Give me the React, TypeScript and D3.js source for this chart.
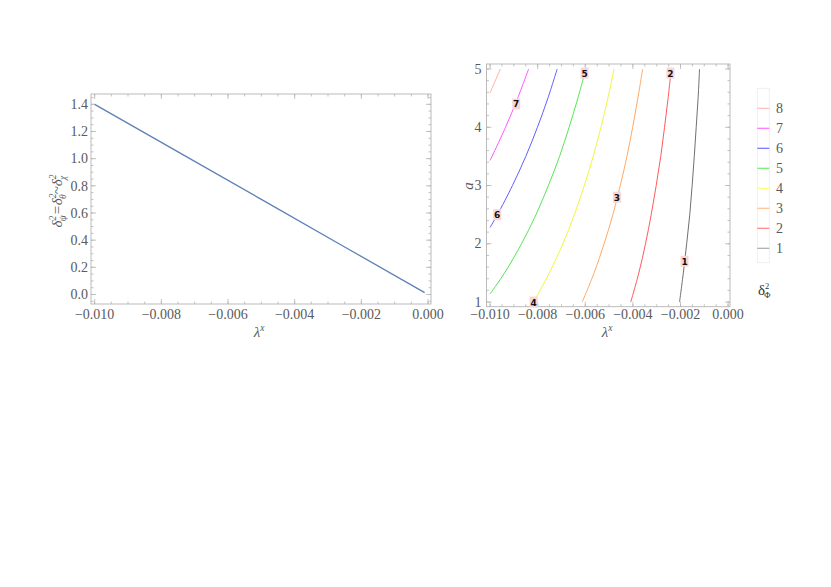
import React from "react";
import * as d3 from "d3";

// ---- Left plot data ----
const lineLambda = [-0.01, -0.0075, -0.005, -0.0025, -0.0001];
const lineDelta = [1.4, 1.05, 0.7, 0.35, 0.014];

// ---- Right plot data: contour lines as [lambda, a] points ----
const levels = [1, 2, 3, 4, 5, 6, 7, 8];
const contour1: [number, number][] = [[-0.00204, 1], [-0.00188, 1.5], [-0.00174, 2], [-0.00161, 2.5], [-0.00151, 3], [-0.00142, 3.5], [-0.00134, 4], [-0.00126, 4.5], [-0.0012, 5]];
const contour2: [number, number][] = [[-0.00409, 1], [-0.00375, 1.5], [-0.00347, 2], [-0.00323, 2.5], [-0.00302, 3], [-0.00283, 3.5], [-0.00267, 4], [-0.00252, 4.5], [-0.00239, 5]];
const contour3: [number, number][] = [[-0.00613, 1], [-0.00563, 1.5], [-0.00521, 2], [-0.00484, 2.5], [-0.00453, 3], [-0.00425, 3.5], [-0.00401, 4], [-0.00379, 4.5], [-0.00359, 5]];
const contour4: [number, number][] = [[-0.00817, 1], [-0.00751, 1.5], [-0.00694, 2], [-0.00646, 2.5], [-0.00604, 3], [-0.00567, 3.5], [-0.00534, 4], [-0.00505, 4.5], [-0.00479, 5]];
const contour5: [number, number][] = [[-0.01, 1.14], [-0.00939, 1.5], [-0.00868, 2], [-0.00807, 2.5], [-0.00755, 3], [-0.00708, 3.5], [-0.00668, 4], [-0.00631, 4.5], [-0.00598, 5]];
const contour6: [number, number][] = [[-0.01, 2.28], [-0.00969, 2.5], [-0.00906, 3], [-0.0085, 3.5], [-0.00801, 4], [-0.00757, 4.5], [-0.00718, 5]];
const contour7: [number, number][] = [[-0.01, 3.43], [-0.00935, 4], [-0.00884, 4.5], [-0.00838, 5]];
const contour8: [number, number][] = [[-0.01, 4.59], [-0.00957, 5]];
const contours = [contour1, contour2, contour3, contour4, contour5, contour6, contour7, contour8];

const labelLevels = ["1", "2", "3", "4", "5", "6", "7"];
const labelLambda = [-0.00183, -0.00242, -0.00467, -0.00817, -0.00603, -0.0097, -0.0089];
const labelA = [1.7, 4.93, 2.8, 1.0, 4.93, 2.5, 4.4];

const lineColors = ["#707070", "#ff5a5a", "#ffaa66", "#f4f442", "#55e655", "#6060ff", "#ff55ff", "#ffb4a8"];
const legendColors = ["#aaaaaa", "#ff8080", "#ffc090", "#ffff70", "#70ee70", "#6f6fff", "#ff70ff", "#ffbcbc"];

const xTicks = [-0.01, -0.008, -0.006, -0.004, -0.002, 0];
const leftYTicks = [0, 0.2, 0.4, 0.6, 0.8, 1.0, 1.2, 1.4];
const rightYTicks = [1, 2, 3, 4, 5];

const FRAME = "#b4b4b4";
const TXT = "#5a5a5a";
const FONT = "'Liberation Serif', 'DejaVu Serif', serif";

function Frame({ x, y, xMinor, yMinor, xMajor, yMajor }: any) {
  const els: any[] = [];
  const x0 = x.range()[0], x1 = x.range()[1];
  const y0 = y.range()[0], y1 = y.range()[1];
  xMinor.forEach((t: number, i: number) => {
    const px = x(t);
    els.push(<line key={"xm" + i} x1={px} x2={px} y1={y0} y2={y0 - 2.5} stroke={FRAME} strokeWidth={0.8} />);
    els.push(<line key={"xmt" + i} x1={px} x2={px} y1={y1} y2={y1 + 2.5} stroke={FRAME} strokeWidth={0.8} />);
  });
  xMajor.forEach((t: number, i: number) => {
    const px = x(t);
    els.push(<line key={"xM" + i} x1={px} x2={px} y1={y0} y2={y0 - 5} stroke={FRAME} strokeWidth={0.8} />);
    els.push(<line key={"xMt" + i} x1={px} x2={px} y1={y1} y2={y1 + 5} stroke={FRAME} strokeWidth={0.8} />);
  });
  yMinor.forEach((t: number, i: number) => {
    const py = y(t);
    els.push(<line key={"ym" + i} x1={x0} x2={x0 + 2.5} y1={py} y2={py} stroke={FRAME} strokeWidth={0.8} />);
    els.push(<line key={"ymr" + i} x1={x1} x2={x1 - 2.5} y1={py} y2={py} stroke={FRAME} strokeWidth={0.8} />);
  });
  yMajor.forEach((t: number, i: number) => {
    const py = y(t);
    els.push(<line key={"yM" + i} x1={x0} x2={x0 + 5} y1={py} y2={py} stroke={FRAME} strokeWidth={0.8} />);
    els.push(<line key={"yMr" + i} x1={x1} x2={x1 - 5} y1={py} y2={py} stroke={FRAME} strokeWidth={0.8} />);
  });
  return (
    <g>
      <rect x={x0} y={y1} width={x1 - x0} height={y0 - y1} fill="none" stroke={FRAME} strokeWidth={0.9} />
      {els}
    </g>
  );
}

export default function App() {
  // Left plot scales
  const xL = d3.scaleLinear().domain([-0.01011, 0.00009]).range([91, 431]);
  const yL = d3.scaleLinear().domain([-0.07, 1.476]).range([304, 94]);
  // Right plot scales
  const xR = d3.scaleLinear().domain([-0.01015, 0.00008]).range([486.5, 730]);
  const yR = d3.scaleLinear().domain([0.92, 5.086]).range([306.7, 64]);

  const fx = d3.format(".3f");
  const fy = d3.format(".1f");

  const xMinor = d3.range(-0.0105, 0.00051, 0.0005).filter((v) => v >= -0.0101 && v <= 0.00009);
  const xMinorR = d3.range(-0.0105, 0.00051, 0.0005).filter((v) => v >= -0.01015 && v <= 0.00008);
  const yMinorL = d3.range(-0.05, 1.4751, 0.05);
  const yMinorR = d3.range(1, 5.01, 0.2);

  const leftLine = d3
    .line<number>()
    .x((_, i) => xL(lineLambda[i]))
    .y((d) => yL(d));

  const cLine = d3
    .line<[number, number]>()
    .x((d) => xR(d[0]))
    .y((d) => yR(d[1]))
    .curve(d3.curveCatmullRom);

  const legendY = d3.scaleLinear().domain([8, 1]).range([108.3, 248.3]);

  return (
    <svg width={831} height={587} style={{ position: "absolute", left: 0, top: 0, background: "#fff" }} fontFamily={FONT}>
      <rect x={0} y={0} width={831} height={587} fill="#fff" />
      {/* Left plot */}
      <Frame x={xL} y={yL} xMinor={xMinor} yMinor={yMinorL} xMajor={xTicks} yMajor={leftYTicks} />
      <path d={leftLine(lineDelta) || ""} fill="none" stroke="#5e81b5" strokeWidth={1.3} />
      {xTicks.map((t, i) => (
        <text key={"lx" + i} x={xL(t)} y={318.5} textAnchor="middle" fontSize={14} fill={TXT}>
          {fx(t)}
        </text>
      ))}
      {leftYTicks.map((t, i) => (
        <text key={"ly" + i} x={88} y={yL(t) + 4.7} textAnchor="end" fontSize={14} fill={TXT}>
          {fy(t)}
        </text>
      ))}
      <text x={259} y={337} textAnchor="middle" fontSize={15} fill={TXT} fontStyle="italic">
        λ<tspan dy={-6} fontSize={9.5}>x</tspan>
      </text>
      <text transform="translate(62,201) rotate(-90)" textAnchor="middle" fontSize={15} fill={TXT} fontStyle="italic">
        δ<tspan dy={-6} fontSize={9.5}>2</tspan>
        <tspan dy={10} dx={-5.5} fontSize={9.5}>ψ</tspan>
        <tspan dy={-4}>=δ</tspan>
        <tspan dy={-6} fontSize={9.5}>2</tspan>
        <tspan dy={10} dx={-5.5} fontSize={9.5}>θ</tspan>
        <tspan dy={-4}>~δ</tspan>
        <tspan dy={-6} fontSize={9.5}>2</tspan>
        <tspan dy={10} dx={-5.5} fontSize={9.5}>χ</tspan>
      </text>

      {/* Right plot */}
      <Frame x={xR} y={yR} xMinor={xMinorR} yMinor={yMinorR} xMajor={xTicks} yMajor={rightYTicks} />
      {contours.map((c, i) => (
        <path key={"c" + i} d={cLine(c) || ""} fill="none" stroke={lineColors[i]} strokeWidth={1} />
      ))}
      {labelLevels.map((l, i) => (
        <g key={"cl" + i}>
          <rect x={xR(labelLambda[i]) - 4} y={yR(labelA[i]) - 5.5} width={8} height={11} fill="#f9d6d6" />
          <text x={xR(labelLambda[i])} y={yR(labelA[i]) + 3.5} textAnchor="middle" fontSize={9} fontWeight="bold" fill="#111" fontFamily="'DejaVu Sans', sans-serif">
            {l}
          </text>
        </g>
      ))}
      {xTicks.map((t, i) => (
        <text key={"rx" + i} x={xR(t)} y={319} textAnchor="middle" fontSize={14} fill={TXT}>
          {fx(t)}
        </text>
      ))}
      {rightYTicks.map((t, i) => (
        <text key={"ry" + i} x={481.5} y={yR(t) + 4.5} textAnchor="end" fontSize={14} fill={TXT}>
          {t}
        </text>
      ))}
      <text x={607} y={337} textAnchor="middle" fontSize={15} fill={TXT} fontStyle="italic">
        λ<tspan dy={-6} fontSize={9.5}>x</tspan>
      </text>
      <text transform="translate(473,186) rotate(-90)" textAnchor="middle" fontSize={15} fill={TXT} fontStyle="italic">
        a
      </text>

      {/* Legend */}
      <rect x={757.3} y={88.3} width={12} height={174.4} fill="none" stroke="#ececec" strokeWidth={0.8} />
      {levels.map((l, i) => (
        <g key={"lg" + i}>
          <line x1={757.3} x2={769.3} y1={legendY(l)} y2={legendY(l)} stroke={legendColors[i]} strokeWidth={1.2} />
          <text x={776} y={legendY(l) + 4.8} fontSize={14} fill={TXT}>
            {l}
          </text>
        </g>
      ))}
      <text x={758} y={295} fontSize={15} fill="#333">
        δ<tspan dy={-6} fontSize={8.5}>2</tspan>
        <tspan dy={9} dx={-5} fontSize={8.5}>Φ</tspan>
      </text>
    </svg>
  );
}
